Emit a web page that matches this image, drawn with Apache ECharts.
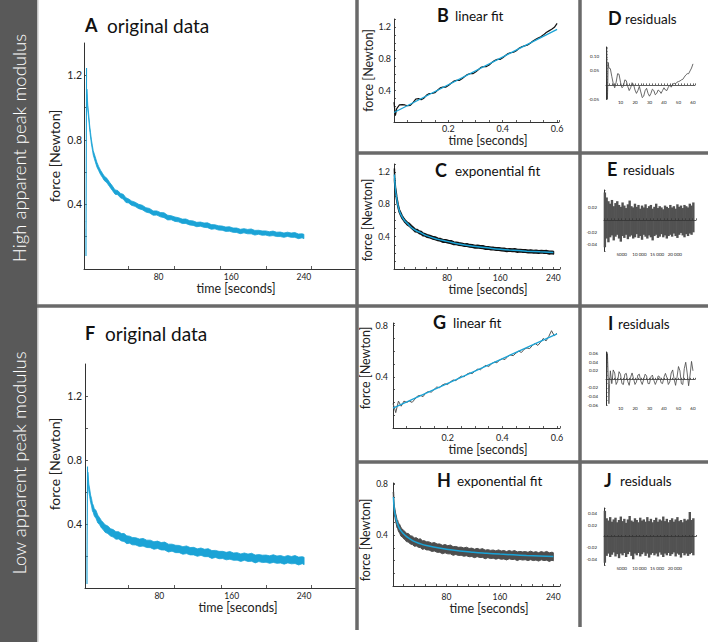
<!DOCTYPE html>
<html><head><meta charset="utf-8">
<script src="https://cdn.jsdelivr.net/npm/echarts@6/dist/echarts.min.js"></script>
<style>html,body{margin:0;padding:0;background:#fff}#c{width:708px;height:642px}</style>
</head><body><div id="c"></div>
<script>
// ---------- data ----------
// loading phase (seconds) — panels B / G
const tRise = [0,0.005,0.01,0.02,0.03,0.04,0.05,0.06,0.07,0.08,0.09,0.1,0.11,0.12,0.13,0.14,0.15,0.16,0.17,0.18,0.19,0.2,0.21,0.22,0.23,0.24,0.25,0.26,0.27,0.28,0.29,0.3,0.31,0.32,0.33,0.34,0.35,0.36,0.37,0.38,0.39,0.4,0.41,0.42,0.43,0.44,0.45,0.46,0.47,0.48,0.49,0.5,0.51,0.52,0.53,0.54,0.55,0.56,0.57,0.58,0.59,0.6];
const riseHigh = [0.25,0.08,0.17,0.215,0.22,0.215,0.205,0.21,0.245,0.29,0.295,0.28,0.3,0.34,0.36,0.36,0.37,0.4,0.43,0.44,0.44,0.46,0.49,0.515,0.525,0.525,0.545,0.575,0.6,0.61,0.61,0.63,0.66,0.69,0.7,0.7,0.72,0.75,0.775,0.79,0.79,0.81,0.84,0.865,0.875,0.88,0.9,0.93,0.95,0.96,0.97,0.99,1.02,1.04,1.06,1.075,1.1,1.13,1.15,1.17,1.195,1.245];
const riseLow = [0.19,0.16,0.12,0.21,0.17,0.21,0.2,0.21,0.2,0.225,0.25,0.255,0.245,0.275,0.285,0.28,0.3,0.32,0.315,0.335,0.345,0.34,0.36,0.375,0.37,0.39,0.405,0.4,0.42,0.43,0.425,0.445,0.46,0.455,0.475,0.49,0.48,0.5,0.515,0.51,0.53,0.54,0.535,0.56,0.57,0.565,0.585,0.6,0.59,0.615,0.625,0.62,0.645,0.66,0.645,0.67,0.7,0.68,0.715,0.76,0.72,0.74];
const lowStart = 0.025;
const fitLinT = [0, 0.6];
const fitLinHigh = [0.12, 1.17];
const fitLinLow = [0.155, 0.735];
// relaxation phase (seconds) — panels A / C / F / H : noisy band, upper / lower edge
const tDecay = [1,2,3,4,5,6,7,8,10,12,14,16,18,20,23,26,29,32,35,38,41,44,47,50,54,58,62,66,70,74,78,82,86,90,94,98,102,106,110,114,118,122,126,130,134,138,142,146,150,154,158,162,166,170,174,178,182,186,190,194,198,202,206,210,214,218,222,226,230,234,238,240];
const hiHigh = [1.114,1.011,0.957,0.892,0.845,0.800,0.766,0.733,0.698,0.661,0.634,0.612,0.594,0.576,0.562,0.537,0.515,0.490,0.486,0.468,0.463,0.441,0.434,0.422,0.414,0.401,0.395,0.380,0.375,0.360,0.360,0.350,0.348,0.333,0.330,0.322,0.318,0.309,0.310,0.300,0.298,0.289,0.291,0.285,0.286,0.275,0.274,0.268,0.266,0.260,0.262,0.254,0.254,0.246,0.250,0.245,0.248,0.239,0.240,0.236,0.236,0.231,0.235,0.228,0.229,0.223,0.228,0.223,0.226,0.217,0.218,0.215];
const loHigh = [1.088,0.984,0.929,0.865,0.817,0.773,0.740,0.706,0.668,0.632,0.609,0.585,0.568,0.549,0.534,0.510,0.487,0.463,0.460,0.441,0.433,0.412,0.409,0.395,0.388,0.374,0.367,0.353,0.347,0.333,0.334,0.323,0.318,0.304,0.305,0.295,0.292,0.282,0.282,0.273,0.270,0.262,0.265,0.258,0.256,0.246,0.249,0.241,0.240,0.233,0.234,0.227,0.226,0.219,0.224,0.218,0.218,0.210,0.215,0.209,0.210,0.204,0.207,0.201,0.201,0.196,0.202,0.196,0.196,0.188,0.193,0.188];
const hiLow = [0.724,0.650,0.618,0.581,0.560,0.529,0.517,0.497,0.484,0.455,0.439,0.421,0.409,0.395,0.388,0.371,0.365,0.352,0.352,0.340,0.341,0.326,0.324,0.316,0.314,0.306,0.310,0.299,0.299,0.289,0.293,0.284,0.287,0.274,0.274,0.267,0.266,0.258,0.263,0.253,0.254,0.245,0.250,0.242,0.246,0.234,0.235,0.229,0.229,0.223,0.228,0.219,0.221,0.213,0.219,0.212,0.217,0.206,0.209,0.205,0.206,0.201,0.208,0.200,0.203,0.196,0.203,0.197,0.203,0.193,0.196,0.192];
const loLow = [0.679,0.603,0.570,0.535,0.513,0.482,0.471,0.451,0.434,0.406,0.395,0.375,0.364,0.348,0.340,0.325,0.318,0.305,0.306,0.294,0.291,0.277,0.280,0.270,0.269,0.259,0.262,0.253,0.252,0.242,0.247,0.238,0.237,0.225,0.230,0.221,0.221,0.211,0.215,0.207,0.207,0.198,0.204,0.196,0.196,0.185,0.191,0.183,0.184,0.176,0.180,0.173,0.174,0.166,0.173,0.166,0.167,0.157,0.165,0.159,0.161,0.154,0.160,0.154,0.156,0.149,0.157,0.151,0.153,0.144,0.152,0.146];
const hiH = [0.694,0.629,0.603,0.570,0.550,0.523,0.517,0.496,0.484,0.459,0.449,0.435,0.429,0.414,0.413,0.395,0.392,0.378,0.380,0.368,0.371,0.356,0.356,0.348,0.347,0.337,0.342,0.330,0.331,0.320,0.326,0.317,0.322,0.309,0.311,0.304,0.306,0.299,0.305,0.295,0.298,0.289,0.296,0.288,0.294,0.282,0.286,0.280,0.283,0.276,0.284,0.275,0.279,0.271,0.279,0.272,0.279,0.268,0.272,0.268,0.271,0.265,0.274,0.265,0.270,0.262,0.271,0.264,0.272,0.261,0.266,0.262];
const loH = [0.630,0.564,0.536,0.505,0.484,0.457,0.452,0.432,0.415,0.391,0.386,0.371,0.365,0.349,0.346,0.330,0.326,0.312,0.315,0.304,0.302,0.288,0.293,0.284,0.283,0.272,0.275,0.265,0.265,0.254,0.261,0.253,0.253,0.241,0.248,0.240,0.242,0.234,0.238,0.230,0.232,0.223,0.231,0.224,0.225,0.214,0.223,0.216,0.219,0.211,0.217,0.210,0.213,0.205,0.214,0.208,0.210,0.200,0.209,0.204,0.207,0.200,0.207,0.200,0.204,0.196,0.206,0.200,0.203,0.193,0.203,0.198];
const fitT = [0.6,2,4,7,10,15,20,30,40,50,65,80,100,120,140,160,180,200,220,240];
const fitHigh = [1.17,1.0,0.88,0.75,0.68,0.61,0.565,0.49,0.45,0.41,0.37,0.342,0.307,0.281,0.262,0.244,0.231,0.221,0.213,0.204];
const fitLow = [0.7,0.6,0.54,0.485,0.45,0.415,0.39,0.355,0.334,0.318,0.302,0.289,0.276,0.266,0.258,0.251,0.245,0.24,0.236,0.232];
// residuals of linear fits (D, I)
const tResD = [0.5,1,1.5,2,3,4,5,6,7,8,9,10,11,12,13,14,15,16,17,18,19,20,21,22,23,24,25,26,27,28,29,30,31,32,33,34,35,36,37,38,39,40,41,42,43,44,45,46,47,48,49,50,51,52,53,54,55,56,57,58,59,60];
const resD = [0.13,-0.05,0.08,0.06,0.058,0.03,0.005,-0.01,0.01,0.04,0.038,0.01,-0.01,-0.005,0.018,0.015,-0.005,-0.02,-0.01,0.008,0.002,-0.018,-0.03,-0.02,-0.005,-0.025,-0.045,-0.04,-0.02,-0.012,-0.03,-0.04,-0.03,-0.015,-0.02,-0.035,-0.03,-0.018,-0.022,-0.03,-0.02,-0.01,-0.018,-0.02,-0.008,0.0,-0.008,0.002,0.006,0.004,0.01,0.012,0.014,0.018,0.02,0.028,0.035,0.04,0.04,0.05,0.06,0.075];
const tResI = [0.5,1,1.5,2,2.5,3,4,5,6,7,8,9,10,11,12,13,14,15,16,17,18,19,20,21,22,23,24,25,26,27,28,29,30,31,32,33,34,35,36,37,38,39,40,41,42,43,44,45,46,47,48,49,50,51,52,53,54,55,56,57,58,59,60];
const resI = [0.0,0.06,0.01,-0.057,-0.01,0.02,-0.01,0.022,0.015,-0.012,-0.005,0.018,0.012,-0.01,-0.012,0.012,0.014,-0.005,-0.014,0.005,0.015,0.002,-0.012,-0.006,0.01,0.012,-0.004,-0.012,0.0,0.012,0.008,-0.01,-0.01,0.006,0.01,-0.002,-0.012,-0.004,0.008,0.006,-0.008,-0.01,0.005,0.014,0.004,-0.012,-0.006,0.015,0.022,0.0,-0.014,0.005,0.03,0.02,-0.01,-0.012,0.025,0.04,0.015,-0.015,0.01,0.042,0.02];
// residuals of exponential fits (E, J): sample index, lower / upper envelope
const tRes = [250,750,1250,1750,2250,2750,3250,3750,4250,4750,5250,5750,6250,6750,7250,7750,8250,8750,9250,9750,10250,10750,11250,11750,12250,12750,13250,13750,14250,14750,15250,15750,16250,16750,17250,17750,18250,18750,19250,19750,20250,20750,21250,21750,22250,22750,23250,23750,24250,24750,25250];
const hiE = [0.044,0.036,0.03,0.026,0.032,0.022,0.027,0.03,0.024,0.021,0.028,0.023,0.019,0.025,0.031,0.022,0.02,0.026,0.021,0.024,0.018,0.023,0.02,0.025,0.019,0.022,0.024,0.018,0.021,0.026,0.019,0.022,0.02,0.017,0.023,0.021,0.019,0.024,0.02,0.022,0.018,0.025,0.021,0.023,0.019,0.024,0.022,0.02,0.026,0.023,0.028];
const loE = [-0.044,-0.03,-0.036,-0.028,-0.025,-0.033,-0.027,-0.024,-0.03,-0.035,-0.026,-0.029,-0.024,-0.031,-0.027,-0.025,-0.03,-0.028,-0.023,-0.029,-0.026,-0.032,-0.024,-0.027,-0.03,-0.025,-0.028,-0.033,-0.026,-0.024,-0.029,-0.027,-0.023,-0.028,-0.025,-0.03,-0.026,-0.024,-0.027,-0.022,-0.026,-0.029,-0.024,-0.021,-0.025,-0.028,-0.023,-0.026,-0.022,-0.024,-0.02];
const hiJ = [0.045,0.032,0.028,0.034,0.026,0.03,0.033,0.025,0.029,0.035,0.027,0.031,0.024,0.03,0.036,0.028,0.026,0.032,0.029,0.025,0.033,0.028,0.03,0.026,0.034,0.027,0.031,0.025,0.029,0.033,0.026,0.03,0.028,0.035,0.027,0.031,0.025,0.029,0.032,0.026,0.03,0.034,0.027,0.029,0.025,0.031,0.028,0.03,0.043,0.029,0.032];
const loJ = [-0.046,-0.034,-0.03,-0.036,-0.032,-0.028,-0.035,-0.031,-0.038,-0.03,-0.033,-0.029,-0.036,-0.031,-0.027,-0.034,-0.04,-0.03,-0.033,-0.029,-0.035,-0.031,-0.028,-0.034,-0.03,-0.037,-0.032,-0.029,-0.033,-0.03,-0.035,-0.028,-0.032,-0.036,-0.03,-0.033,-0.029,-0.034,-0.031,-0.028,-0.035,-0.03,-0.032,-0.037,-0.029,-0.033,-0.03,-0.034,-0.031,-0.029,-0.033];
// tick labels
const forceTicksAF = [0.2,0.4,0.6,0.8,1.0,1.2];
const forceLabelsHigh = [0.4,0.8,1.2];
const forceLabelsLow = [0.4,0.8];
const timeLabels = [80,160,240];
const timeTicksAF = [46,97,148,198,248];
const secLabels = [0.2,0.4,0.6];
const lagLabels = [10,20,30,40,50,60];
const idxLabels = [5000,10000,15000,20000];
const resLabelsD = [-0.05,0.05,0.1];
const resLabelsE = [-0.04,-0.02,0.02];
const resLabelsI = [-0.06,-0.04,-0.02,0.02,0.04,0.06];
const resLabelsJ = [-0.04,-0.02,0.02,0.04];

// ---------- chart ----------
const FONT = 'Lato';
const CYAN = '#1ba3d6';
const pairs = (t, v) => t.map((x, i) => [x, v[i]]);
const f1 = v => v.toFixed(1);
const f2 = v => v.toFixed(2);
const fIdx = v => v >= 10000 ? String(v).replace(/(\d+)(\d{3})$/, '$1 $2') : String(v);

function axis(o) {
  const a = {
    gridIndex: o.g, type: 'value', min: o.min, max: o.max,
    axisLine: { show: true, onZero: !!o.onZero, lineStyle: { color: '#333', width: o.lw || 1 } },
    axisTick: { show: true, inside: true, length: o.tl || 3, lineStyle: { color: '#333', width: 0.8 } },
    axisLabel: { show: true, fontFamily: FONT, fontSize: o.fs, color: '#222', margin: o.margin, customValues: o.labels, formatter: o.fmt },
    splitLine: { show: false },
    z: o.z || 0
  };
  if (o.interval !== undefined) a.interval = o.interval;
  if (o.ticks) a.axisTick.customValues = o.ticks;
  if (o.name) {
    a.name = o.name; a.nameLocation = 'middle'; a.nameGap = o.gap;
    if (o.rot) a.nameRotate = o.rot;
    a.nameTextStyle = { fontFamily: FONT, fontSize: o.nfs, color: '#222', padding: o.pad || 0 };
  }
  return a;
}

const grids = [
  { left: 84, top: 43, width: 273, height: 226 },   // A
  { left: 394, top: 19, width: 165, height: 103 },  // B
  { left: 394, top: 164, width: 166, height: 105 }, // C
  { left: 606, top: 47, width: 89, height: 52 },    // D
  { left: 604, top: 190, width: 92, height: 61 },   // E
  { left: 85, top: 364, width: 272, height: 224 },  // F
  { left: 393, top: 323, width: 167, height: 105 }, // G
  { left: 393, top: 483, width: 167, height: 103 }, // H
  { left: 606, top: 352, width: 89, height: 53 },   // I
  { left: 604, top: 508, width: 92, height: 57 }    // J
];

const xAxes = [
  axis({ g: 0, min: -2.2, max: 298.5, labels: timeLabels, ticks: timeTicksAF, fs: 8.5, margin: 3, name: 'time [seconds]', gap: 11, nfs: 12.5, pad: [0, 0, 0, 31] }),
  axis({ g: 1, min: 0, max: 0.607, interval: 0.05, labels: secLabels, fs: 9, margin: 2, tl: 2, fmt: f1, name: 'time [seconds]', gap: 12, nfs: 12.5, pad: [0, 0, 0, 23] }),
  axis({ g: 2, min: 0, max: 250, interval: 16, labels: timeLabels, fs: 8.5, margin: 4, tl: 2, name: 'time [seconds]', gap: 8, nfs: 12.5, pad: [0, 0, 0, 22] }),
  axis({ g: 3, min: 0, max: 61.4, interval: 2, labels: lagLabels, fs: 4.5, margin: 1, tl: 1.5, onZero: true, lw: 0.8 }),
  axis({ g: 4, min: 0, max: 26000, interval: 1000, labels: idxLabels, fs: 4.5, margin: 1, tl: 1.5, onZero: true, fmt: fIdx, z: 5, lw: 0.8 }),
  axis({ g: 5, min: -2.2, max: 298.5, labels: timeLabels, ticks: timeTicksAF, fs: 8.5, margin: 3, name: 'time [seconds]', gap: 13, nfs: 12.5, pad: [0, 0, 0, 34] }),
  axis({ g: 6, min: 0, max: 0.611, interval: 0.05, labels: secLabels, fs: 9, margin: 5, tl: 2, fmt: f1, name: 'time [seconds]', gap: 11, nfs: 12.5, pad: [0, 0, 0, 23] }),
  axis({ g: 7, min: 0, max: 250, interval: 16, labels: timeLabels, fs: 8.5, margin: 6, tl: 2, name: 'time [seconds]', gap: 15, nfs: 12.5, pad: [0, 0, 0, 25] }),
  axis({ g: 8, min: 0, max: 61.4, interval: 2, labels: lagLabels, fs: 4.5, margin: 1, tl: 1.5, onZero: true, lw: 0.8 }),
  axis({ g: 9, min: 0, max: 26000, interval: 1000, labels: idxLabels, fs: 4.5, margin: 1, tl: 1.5, onZero: true, fmt: fIdx, z: 5, lw: 0.8 })
];
const yAxes = [
  axis({ g: 0, min: 0, max: 1.4, labels: forceLabelsHigh, ticks: forceTicksAF, fs: 10.5, margin: 2, fmt: f1, name: 'force [Newton]', gap: 23, nfs: 14, rot: 90 }),
  axis({ g: 1, min: 0, max: 1.3, interval: 0.1, labels: forceLabelsHigh, fs: 9, margin: 3, tl: 2, fmt: f1, name: 'force [Newton]', gap: 18, nfs: 12.5, rot: 90 }),
  axis({ g: 2, min: 0, max: 1.3, interval: 0.1, labels: forceLabelsHigh, fs: 8.5, margin: 4, tl: 2, fmt: f1, name: 'force [Newton]', gap: 18, nfs: 12.5, rot: 90, pad: [0, 7, 0, 0] }),
  axis({ g: 3, min: -0.05, max: 0.135, interval: 0.01, labels: resLabelsD, fs: 4.5, margin: 7, tl: 1.5, fmt: f2 }),
  axis({ g: 4, min: -0.05, max: 0.048, interval: 0.01, labels: resLabelsE, fs: 4.5, margin: 7, tl: 1.5, fmt: f2 }),
  axis({ g: 5, min: 0, max: 1.4, labels: forceLabelsHigh, ticks: forceTicksAF, fs: 10.5, margin: 3, fmt: f1, name: 'force [Newton]', gap: 24, nfs: 14, rot: 90, pad: [0, 0, 0, 24] }),
  axis({ g: 6, min: 0, max: 0.82, interval: 0.1, labels: forceLabelsLow, fs: 9, margin: 5, tl: 2, fmt: f1, name: 'force [Newton]', gap: 17, nfs: 12.5, rot: 90, pad: [0, 0, 0, 15] }),
  axis({ g: 7, min: 0, max: 0.81, interval: 0.1, labels: forceLabelsLow, fs: 8.5, margin: 5, tl: 2, fmt: f1, name: 'force [Newton]', gap: 17, nfs: 12.5, rot: 90, pad: [0, 11, 0, 0] }),
  axis({ g: 8, min: -0.06, max: 0.064, interval: 0.01, labels: resLabelsI, fs: 4.5, margin: 8, tl: 1.5, fmt: f2 }),
  axis({ g: 9, min: -0.05, max: 0.05, interval: 0.01, labels: resLabelsJ, fs: 4.5, margin: 7, tl: 1.5, fmt: f2 })
];

function line(idx, data, color, width, smooth) {
  return { type: 'line', xAxisIndex: idx, yAxisIndex: idx, data, showSymbol: false, symbol: 'none',
    smooth: !!smooth, lineStyle: { color, width }, animation: false, silent: true };
}
// noisy force band: one polygon through the upper edge and back along the lower edge
function noiseBand(idx, t, lo, hi, color, strokeW) {
  return { type: 'custom', coordinateSystem: 'cartesian2d', xAxisIndex: idx, yAxisIndex: idx,
    data: t.map((x, i) => [x, lo[i], hi[i]]), encode: { x: 0, y: [1, 2] }, animation: false, silent: true,
    renderItem: (params, api) => {
      if (params.dataIndex !== 0) return null;
      const up = t.map((x, i) => api.coord([x, hi[i]]));
      const dn = t.map((x, i) => api.coord([x, lo[i]])).reverse();
      return { type: 'polygon', shape: { points: up.concat(dn) }, style: { fill: color, stroke: color, lineWidth: strokeW, lineJoin: 'round' } };
    } };
}
// residual noise: vertical strokes from lower to upper envelope
function resBand(idx, t, lo, hi) {
  return { type: 'custom', coordinateSystem: 'cartesian2d', xAxisIndex: idx, yAxisIndex: idx,
    data: t.map((x, i) => [x, lo[i], hi[i]]), encode: { x: 0, y: [1, 2] }, animation: false, silent: true,
    renderItem: (params, api) => {
      const p1 = api.coord([api.value(0), api.value(1)]);
      const p2 = api.coord([api.value(0), api.value(2)]);
      return { type: 'line', shape: { x1: p1[0], y1: p1[1], x2: p2[0], y2: p2[1] }, style: { stroke: '#525252', lineWidth: 2.4 } };
    } };
}
const last = tRise.length - 1;
const series = [
  line(0, pairs(tRise, riseHigh), CYAN, 1.1),
  noiseBand(0, tDecay, loHigh, hiHigh, CYAN, 0.8),
  line(1, pairs(tRise, riseHigh), '#111', 1.2),
  line(1, pairs(fitLinT, fitLinHigh), CYAN, 1.3),
  line(2, [[tRise[last], riseHigh[last]], [tDecay[0], hiHigh[0]]], '#111', 1.5),
  noiseBand(2, tDecay, loHigh, hiHigh, '#111', 1.8),
  line(2, pairs(fitT, fitHigh), CYAN, 1.5, true),
  line(3, pairs(tResD, resD), '#444', 0.8),
  resBand(4, tRes, loE, hiE),
  line(5, [[0, lowStart]].concat(pairs(tRise, riseLow)), CYAN, 1.1),
  noiseBand(5, tDecay, loLow, hiLow, CYAN, 0.8),
  line(6, pairs(tRise, riseLow), '#555', 1),
  line(6, pairs(fitLinT, fitLinLow), CYAN, 1.3),
  line(7, [[tRise[last], riseLow[last]], [tDecay[0], hiH[0]]], '#4a4a4a', 1.5),
  noiseBand(7, tDecay, loH, hiH, '#4d4d4d', 1),
  line(7, pairs(fitT, fitLow), CYAN, 1.5, true),
  line(8, pairs(tResI, resI), '#444', 0.8),
  resBand(9, tRes, loJ, hiJ)
];

const SEP = '#6a6a6a';
function sep(x1, y1, x2, y2) {
  return { type: 'line', z: 100, silent: true, shape: { x1, y1, x2, y2 }, style: { stroke: SEP, lineWidth: 3.5 } };
}
function txt(x, y, text, size, bold, fill) {
  return { type: 'text', z: 100, silent: true, x, y,
    style: { text, fill: fill || '#111', fontFamily: FONT, fontSize: size, fontWeight: bold ? 'bold' : 'normal', align: 'left', verticalAlign: 'middle' } };
}
function title(lx, wx, base, letter, words) {
  return [txt(lx, base - 5.5, letter, 18, true), txt(wx, base - 4.5, words, 13.5, false)];
}
const graphic = [
  { type: 'rect', z: 90, silent: true, shape: { x: 0, y: 0, width: 37, height: 642 }, style: { fill: '#595959' } },
  { type: 'rect', z: 90, silent: true, shape: { x: 37, y: 0, width: 1.5, height: 642 }, style: { fill: '#c4c4c4' } },
  { type: 'text', z: 100, silent: true, x: 19, y: 148, rotation: Math.PI / 2,
    style: { text: 'High apparent peak modulus', fill: '#fff', fontFamily: FONT, fontSize: 18.5, fontWeight: 300, align: 'center', verticalAlign: 'middle' } },
  { type: 'text', z: 100, silent: true, x: 19, y: 463, rotation: Math.PI / 2,
    style: { text: 'Low apparent peak modulus', fill: '#fff', fontFamily: FONT, fontSize: 18.5, fontWeight: 300, align: 'center', verticalAlign: 'middle' } },
  sep(357, 0, 357, 630),
  sep(580, 0, 580, 627),
  sep(37, 306, 708, 306),
  sep(357, 153, 708, 153),
  sep(357, 462, 708, 462),
  txt(85, 24.5, 'A', 18, true), txt(107, 25, 'original data', 19, false),
  txt(85, 332.5, 'F', 18, true), txt(105, 333, 'original data', 19, false),
  ...title(437, 455, 20, 'B', 'linear fit'),
  ...title(435, 455, 175, 'C', 'exponential fit'),
  ...title(608, 625, 23, 'D', 'residuals'),
  ...title(607, 623, 174, 'E', 'residuals'),
  ...title(433, 453, 327, 'G', 'linear fit'),
  ...title(437, 457, 485, 'H', 'exponential fit'),
  ...title(608, 618, 328, 'I', 'residuals'),
  ...title(604, 620, 485, 'J', 'residuals')
];

const chart = echarts.init(document.getElementById('c'), null, { renderer: 'svg', width: 708, height: 642 });
chart.setOption({
  animation: false,
  backgroundColor: '#fff',
  grid: grids.map(g => Object.assign({ containLabel: false, show: false }, g)),
  xAxis: xAxes,
  yAxis: yAxes,
  series,
  graphic
});
</script></body></html>
